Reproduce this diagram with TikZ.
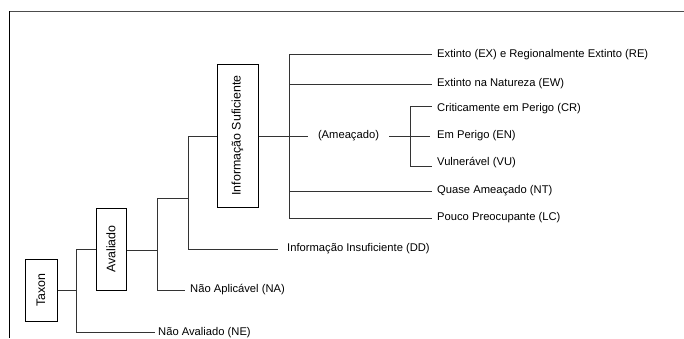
\documentclass[tikz,border=0pt]{standalone}
\usepackage{fontspec}
\usepackage{graphicx}
\setmainfont{Liberation Sans}
\tikzset{
  boxnode/.style={draw=black, line width=1pt, inner sep=0pt, font=\fontsize{12.4}{14}\selectfont},
  leaf/.style={anchor=west, inner sep=0pt, font=\fontsize{11.2}{13}\selectfont, text=black},
  conn/.style={draw=black!80, line width=1pt},
}
\begin{document}
\begin{tikzpicture}[x=1pt,y=-1pt]
\useasboundingbox (0,0) rectangle (684,338);
% frame
\draw[black!70, line width=1pt] (9,11) -- (684,11);
\draw[black, line width=1pt] (9,11) -- (9,338);

% boxes
\node[boxnode, minimum width=32pt, minimum height=62pt] (taxon) at (41,290) {\rotatebox{90}{Taxon}};
\node[boxnode, minimum width=30pt, minimum height=82pt] (aval) at (111,249) {\rotatebox{90}{Avaliado}};
\node[boxnode, minimum width=41pt, minimum height=143pt] (infos) at (237.5,135.5) {\rotatebox{90}{Informação Suficiente}};

% leaf labels
\node[leaf] (ne) at (158,333) {Não Avaliado (NE)};
\node[leaf] (na) at (190,290) {Não Aplicável (NA)};
\node[leaf] (dd) at (287,249) {Informação Insuficiente (DD)};
\node[leaf, anchor=center, inner xsep=10pt] (amea) at (348.5,136) {(Ameaçado)};
\node[leaf] (ex) at (437,55) {Extinto (EX) e Regionalmente Extinto (RE)};
\node[leaf] (ew) at (437,83.5) {Extinto na Natureza (EW)};
\node[leaf] (cr) at (437,109) {Criticamente em Perigo (CR)};
\node[leaf] (en) at (437,136) {Em Perigo (EN)};
\node[leaf] (vu) at (437,162.5) {Vulnerável (VU)};
\node[leaf] (nt) at (437,191) {Quase Ameaçado (NT)};
\node[leaf] (lc) at (437,217.5) {Pouco Preocupante (LC)};

% junction coordinates
\coordinate (j1t) at (76,249);
\coordinate (j1b) at (76,332);
\coordinate (j2t) at (157,198);
\coordinate (j2b) at (157,290);
\coordinate (j3t) at (188,136);
\coordinate (j3b) at (188,249);
\coordinate (j4t) at (289,54);
\coordinate (j4b) at (289,218);
\coordinate (j5t) at (410,106);
\coordinate (j5b) at (410,166);
% free line ends
\coordinate (ene) at (155,332);
\coordinate (ena) at (185,290);
\coordinate (edd) at (278,249);
\coordinate (eex) at (432,54);
\coordinate (eew) at (432,84);
\coordinate (ecr) at (432,106);
\coordinate (een) at (430,136);
\coordinate (evu) at (432,166);
\coordinate (ent) at (432,191);
\coordinate (elc) at (432,218);

% connectors
\draw[conn] (taxon.east) -- (taxon.east -| j1t);
\draw[conn] (j1t) -- (j1b);
\draw[conn] (j1t) -- (aval.west |- j1t);
\draw[conn] (j1b) -- (ene);
\draw[conn] (aval.east |- 0,250) -- (157,250);
\draw[conn] (j2t) -- (j2b);
\draw[conn] (j2b) -- (ena);
\draw[conn] (j2t) -- (j2t -| j3t);
\draw[conn] (j3t) -- (j3b);
\draw[conn] (j3b) -- (edd);
\draw[conn] (j3t) -- (infos.west |- j3t);
\draw[conn] (infos.east |- j3t) -- (amea.west);
\draw[conn] (j4t) -- (j4b);
\draw[conn] (j4t) -- (eex);
\draw[conn] (j4t |- eew) -- (eew);
\draw[conn] (j4t |- ent) -- (ent);
\draw[conn] (j4b) -- (elc);
\draw[conn] (amea.east) -- (een);
\draw[conn] (j5t) -- (j5b);
\draw[conn] (j5t) -- (ecr);
\draw[conn] (j5b) -- (evu);
\end{tikzpicture}
\end{document}
